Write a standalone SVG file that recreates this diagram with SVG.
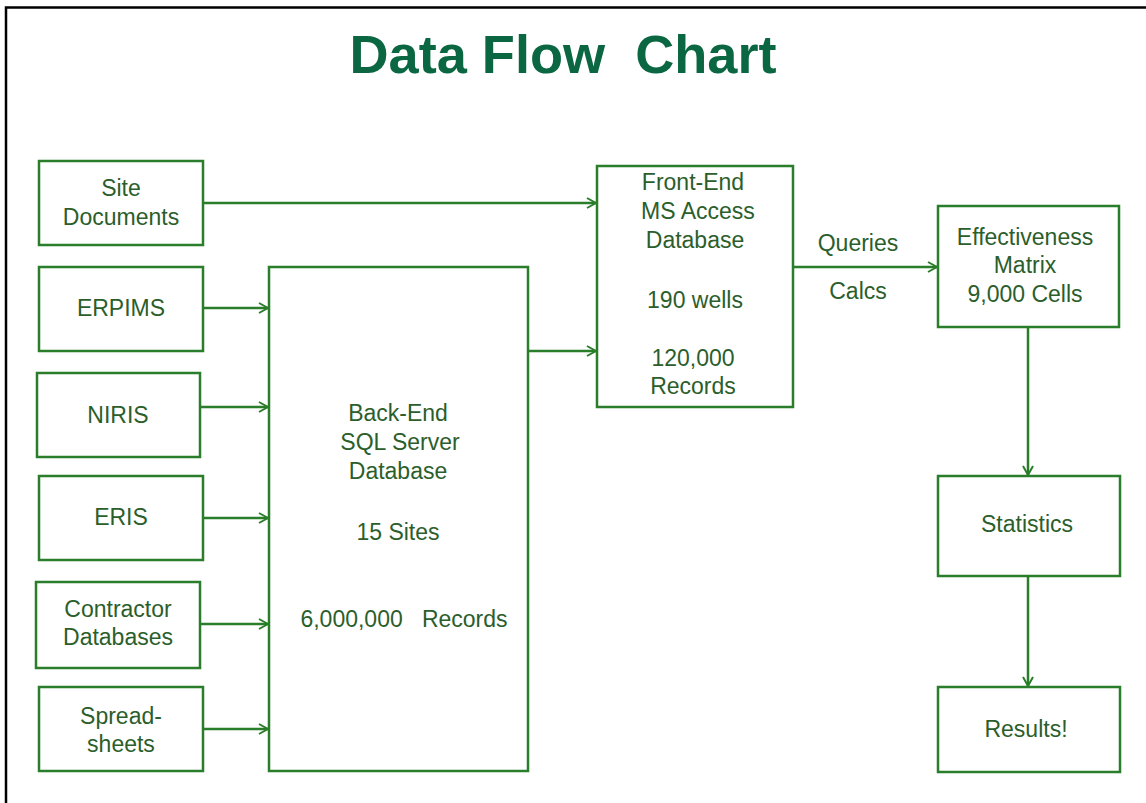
<svg xmlns="http://www.w3.org/2000/svg" width="1146" height="803" viewBox="0 0 1146 803">
<defs>
<style>
.box{fill:#ffffff;stroke:#2a7d2a;stroke-width:2.5}
.lbl{font-family:"Liberation Sans",Arial,sans-serif;font-size:23px;fill:#2b5e2b;text-anchor:middle}
.title{font-family:"Liberation Sans",Arial,sans-serif;font-size:53px;font-weight:bold;fill:#0b6642;text-anchor:middle}
.conn{stroke:#2a7d2a;stroke-width:2.5;fill:none}
</style>
<marker id="arr" viewBox="0 0 12 12" refX="11" refY="6" markerWidth="12" markerHeight="12" markerUnits="userSpaceOnUse" orient="auto">
<path d="M2,1 L11,6 L2,11" fill="none" stroke="#2a7d2a" stroke-width="2"/>
</marker>
</defs>
<rect x="0" y="0" width="1146" height="803" fill="#ffffff"/>
<path d="M6,803 L6,7.5 L1146,7.5" fill="none" stroke="#000000" stroke-width="2.5"/>
<text class="title" x="563" y="73" xml:space="preserve" textLength="427" lengthAdjust="spacingAndGlyphs">Data Flow  Chart</text>

<g id="connectors">
<line class="conn" x1="203" y1="203" x2="596" y2="203" marker-end="url(#arr)"/>
<line class="conn" x1="203" y1="308" x2="268" y2="308" marker-end="url(#arr)"/>
<line class="conn" x1="200" y1="407" x2="268" y2="407" marker-end="url(#arr)"/>
<line class="conn" x1="203" y1="518" x2="268" y2="518" marker-end="url(#arr)"/>
<line class="conn" x1="200" y1="624" x2="268" y2="624" marker-end="url(#arr)"/>
<line class="conn" x1="203" y1="729" x2="268" y2="729" marker-end="url(#arr)"/>
<line class="conn" x1="528" y1="351" x2="596" y2="351" marker-end="url(#arr)"/>
<line class="conn" x1="793" y1="267" x2="937" y2="267" marker-end="url(#arr)"/>
<line class="conn" x1="1028" y1="327" x2="1028" y2="475" marker-end="url(#arr)"/>
<line class="conn" x1="1028" y1="576" x2="1028" y2="686" marker-end="url(#arr)"/>
<text class="lbl" x="858" y="251">Queries</text>
<text class="lbl" x="858" y="299">Calcs</text>
</g>

<g id="site-documents">
<rect class="box" x="39" y="161" width="164" height="84"/>
<text class="lbl" x="121" y="196">Site</text>
<text class="lbl" x="121" y="225">Documents</text>
</g>
<g id="erpims">
<rect class="box" x="39" y="267" width="164" height="84"/>
<text class="lbl" x="121" y="316">ERPIMS</text>
</g>
<g id="niris">
<rect class="box" x="37" y="373" width="163" height="84"/>
<text class="lbl" x="118" y="423">NIRIS</text>
</g>
<g id="eris">
<rect class="box" x="39" y="476" width="164" height="84"/>
<text class="lbl" x="121" y="525">ERIS</text>
</g>
<g id="contractor-databases">
<rect class="box" x="36" y="582" width="164" height="86"/>
<text class="lbl" x="118" y="617">Contractor</text>
<text class="lbl" x="118" y="645">Databases</text>
</g>
<g id="spreadsheets">
<rect class="box" x="39" y="687" width="164" height="84"/>
<text class="lbl" x="121" y="724">Spread-</text>
<text class="lbl" x="121" y="752">sheets</text>
</g>
<g id="back-end">
<rect class="box" x="269" y="267" width="259" height="504"/>
<text class="lbl" x="398" y="421">Back-End</text>
<text class="lbl" x="400" y="450">SQL Server</text>
<text class="lbl" x="398" y="479">Database</text>
<text class="lbl" x="398" y="540">15 Sites</text>
<text class="lbl" x="404" y="627" xml:space="preserve">6,000,000   Records</text>
</g>
<g id="front-end">
<rect class="box" x="597" y="166" width="196" height="241"/>
<text class="lbl" x="693" y="190">Front-End</text>
<text class="lbl" x="698" y="219">MS Access</text>
<text class="lbl" x="695" y="248">Database</text>
<text class="lbl" x="695" y="308">190 wells</text>
<text class="lbl" x="693" y="366">120,000</text>
<text class="lbl" x="693" y="394">Records</text>
</g>
<g id="effectiveness-matrix">
<rect class="box" x="938" y="206" width="181" height="121"/>
<text class="lbl" x="1025" y="245">Effectiveness</text>
<text class="lbl" x="1025" y="273">Matrix</text>
<text class="lbl" x="1025" y="302">9,000 Cells</text>
</g>
<g id="statistics">
<rect class="box" x="938" y="476" width="182" height="100"/>
<text class="lbl" x="1027" y="532">Statistics</text>
</g>
<g id="results">
<rect class="box" x="938" y="687" width="182" height="85"/>
<text class="lbl" x="1026" y="737">Results!</text>
</g>
</svg>
